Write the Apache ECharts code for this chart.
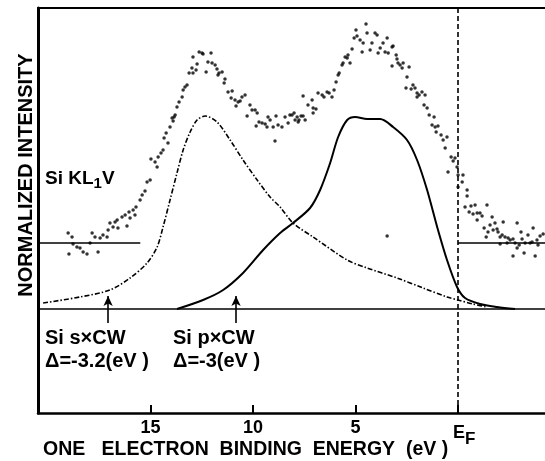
<!DOCTYPE html>
<html>
<head>
<meta charset="utf-8">
<script src="https://cdn.jsdelivr.net/npm/echarts@6.0.0/dist/echarts.min.js"></script>
<style>
  html, body { margin: 0; padding: 0; background: #fff; }
  #main { width: 545px; height: 461px; }
</style>
</head>
<body>
<div id="main"></div>
<script>
// binding energy (eV) on x, normalized intensity (arb.) on y
var xMin = -4.24, xMax = 20.49;
var yMin = -1.04, yMax = 3.01;
var tickValues = [15, 10, 5, 0];

// Si s x CW (dash-dot)
var sxcwCurve = [
  [20.24, 0.06], [18.44, 0.12], [16.98, 0.19], [16.0, 0.31], [15.17, 0.46],
  [14.68, 0.62], [14.39, 0.82], [14.05, 1.09], [13.71, 1.36], [13.41, 1.59],
  [13.07, 1.77], [12.73, 1.89], [12.34, 1.93], [11.76, 1.87], [11.12, 1.69],
  [10.49, 1.49], [9.80, 1.29], [9.17, 1.12], [8.68, 1.02], [8.05, 0.86],
  [7.07, 0.72], [5.41, 0.49], [4.44, 0.41], [2.98, 0.31], [1.71, 0.21],
  [0.54, 0.12], [0, 0.09], [-0.73, 0.05], [-1.41, 0.02]
];

// Si p x CW (solid)
var pxcwCurve = [
  [13.71, 0], [12.44, 0.09], [11.46, 0.19], [10.49, 0.36], [9.51, 0.59],
  [8.68, 0.76], [8.05, 0.86], [7.22, 1.01], [6.73, 1.19], [6.24, 1.46],
  [5.85, 1.72], [5.41, 1.89], [5.02, 1.92], [4.44, 1.90], [3.80, 1.90],
  [3.17, 1.82], [2.49, 1.69], [2.0, 1.49], [1.51, 1.19], [1.02, 0.82],
  [0.54, 0.49], [0.05, 0.22], [-0.34, 0.11], [-1.07, 0.05], [-1.90, 0.02],
  [-2.78, 0]
];

// measured Si KL1V points
var measured = [
  [19.02, 0.76], [18.83, 0.72], [18.98, 0.55], [18.78, 0.65], [18.59, 0.62],
  [18.44, 0.61], [18.29, 0.57], [18.10, 0.55], [17.95, 0.66], [17.85, 0.76],
  [17.71, 0.72], [17.56, 0.57], [17.46, 0.71], [17.32, 0.74], [17.12, 0.72],
  [17.07, 0.79], [16.98, 0.86], [16.83, 0.82], [16.73, 0.87], [16.59, 0.81],
  [16.63, 0.89], [16.39, 0.92], [16.24, 0.94], [16.15, 0.83], [16.05, 0.97],
  [16.00, 0.91], [15.85, 0.99], [15.71, 1.02], [15.76, 0.94], [15.51, 1.09],
  [15.41, 1.14], [15.27, 1.18], [15.17, 1.27], [15.02, 1.29], [14.98, 1.50],
  [14.78, 1.47], [14.68, 1.42], [14.63, 1.52], [14.49, 1.56], [14.39, 1.59],
  [14.34, 1.71], [14.24, 1.76], [14.15, 1.66], [14.05, 1.82], [13.90, 1.88],
  [13.85, 1.92], [13.71, 2.02], [13.61, 2.07], [13.95, 1.91], [13.80, 1.94],
  [13.46, 2.12], [13.41, 2.19], [13.32, 2.22], [13.22, 2.24], [13.12, 2.36],
  [12.98, 2.41], [12.93, 2.36], [12.78, 2.39], [12.73, 2.45], [12.93, 2.52],
  [12.63, 2.57], [12.49, 2.56], [12.44, 2.55], [12.05, 2.56], [12.29, 2.37],
  [12.20, 2.47], [12.00, 2.46], [11.85, 2.44], [11.76, 2.40], [11.66, 2.36],
  [11.51, 2.37], [11.71, 2.34], [11.37, 2.30], [11.41, 2.26], [11.22, 2.17],
  [11.02, 2.18], [11.07, 2.11], [10.88, 2.09], [10.73, 2.07], [10.83, 2.03],
  [10.54, 2.12], [10.39, 2.14], [10.63, 2.08], [10.15, 2.04], [10.05, 1.99],
  [9.90, 1.99], [9.80, 1.96], [10.29, 1.93], [9.71, 1.87], [9.56, 1.86],
  [9.41, 1.85], [9.85, 1.83], [9.32, 1.82], [9.27, 1.92], [9.17, 1.89],
  [9.02, 1.82], [8.88, 1.93], [8.78, 1.84], [8.59, 1.82], [8.44, 1.92],
  [8.29, 1.86], [8.10, 1.94], [8.00, 1.96], [7.85, 1.92], [7.76, 1.89],
  [8.93, 1.68], [8.20, 1.94], [7.95, 1.89], [7.80, 1.87], [7.66, 1.93],
  [7.56, 1.93], [7.46, 1.89], [7.56, 2.13], [7.32, 2.04], [7.12, 2.09],
  [7.07, 2.01], [6.93, 2.00], [7.07, 1.96], [6.83, 2.16], [6.63, 2.14],
  [6.54, 2.12], [6.39, 2.17], [6.29, 2.16], [6.15, 2.12], [6.05, 2.19],
  [5.95, 2.27], [5.85, 2.34], [5.80, 2.36], [5.66, 2.44], [5.61, 2.46],
  [5.51, 2.52], [5.37, 2.54], [5.41, 2.51], [5.27, 2.46], [5.17, 2.60],
  [5.07, 2.71], [4.98, 2.79], [4.93, 2.73], [4.78, 2.69], [4.63, 2.66],
  [4.68, 2.57], [4.49, 2.85], [4.44, 2.76], [4.29, 2.59], [4.20, 2.66],
  [4.05, 2.76], [3.95, 2.74], [3.90, 2.56], [3.80, 2.61], [3.66, 2.66],
  [3.56, 2.57], [3.46, 2.71], [3.41, 2.56], [3.22, 2.62], [3.17, 2.63],
  [3.02, 2.54], [2.98, 2.50], [2.93, 2.46], [3.22, 2.43], [2.83, 2.44],
  [2.68, 2.46], [2.73, 2.41], [2.39, 2.42], [2.49, 2.32], [2.20, 2.24],
  [2.54, 2.21], [2.29, 2.20], [2.10, 2.21], [2.00, 2.16], [1.90, 2.14],
  [2.00, 2.12], [1.76, 2.17], [1.61, 2.14], [1.66, 2.04], [1.51, 2.01],
  [1.41, 1.94], [1.17, 1.92], [1.27, 1.84], [1.12, 1.82], [0.98, 1.83],
  [1.07, 1.77], [0.83, 1.74], [0.73, 1.69], [0.54, 1.72], [0.63, 1.61],
  [0.34, 1.52], [0.24, 1.48], [0.15, 1.51], [0.05, 1.42], [0.49, 1.37],
  [0.00, 1.34], [-0.24, 1.34], [-0.20, 1.27], [0.00, 1.22], [-0.44, 1.19],
  [-0.44, 1.13], [-0.34, 1.02], [-0.63, 1.03], [-0.83, 1.04], [-0.73, 0.95],
  [-0.93, 0.96], [-0.93, 0.89], [-0.54, 0.97], [-1.07, 0.96], [-1.17, 0.93],
  [-1.41, 1.04], [-1.66, 0.92], [-1.27, 0.81], [-1.46, 0.77], [-1.37, 0.72],
  [-1.56, 0.84], [-1.80, 0.86], [-1.71, 0.79], [-1.90, 0.80], [-1.95, 0.77],
  [-2.05, 0.72], [-2.20, 0.87], [-2.15, 0.74], [-2.29, 0.72], [-2.44, 0.71],
  [-2.54, 0.69], [-2.05, 0.65], [-2.39, 0.66], [-2.68, 0.70], [-2.78, 0.66],
  [-2.88, 0.86], [-2.98, 0.64], [-3.07, 0.77], [-3.12, 0.70], [-3.27, 0.66],
  [-2.68, 0.53], [-2.88, 0.61], [-3.22, 0.56], [-3.41, 0.74], [-3.51, 0.66],
  [-3.61, 0.67], [-3.66, 0.81], [-3.76, 0.53], [-3.85, 0.69], [-4.00, 0.73],
  [-4.15, 0.75], [-3.90, 0.64], [3.46, 0.73]
];

// background level and marker arrows
var bgLevel = 0.66;
var bgLeftEnd = 15.5;
var arrowX = [17.07, 10.83];
var arrowFrom = -0.14, arrowTo = 0.13;

var font = 'Liberation Sans';
var chart = echarts.init(document.getElementById('main'));

var markData = [
  [{ coord: [xMax, bgLevel] }, { coord: [bgLeftEnd, bgLevel] }],
  [{ coord: [0, bgLevel] }, { coord: [xMin, bgLevel] }],
  [{ coord: [xMax, 0] }, { coord: [xMin, 0] }]
];
arrowX.forEach(function (x) {
  markData.push([
    { coord: [x, arrowFrom], symbol: 'none' },
    { coord: [x, arrowTo], symbol: 'arrow', symbolSize: [7, 10] }
  ]);
});

var option = {
  animation: false,
  backgroundColor: '#fff',
  grid: { left: 38, right: 0, top: 8, bottom: 48, containLabel: false, outerBoundsMode: 'none' },
  xAxis: [
    {
      type: 'value', min: xMin, max: xMax, inverse: true,
      axisLine: { show: true, onZero: false, lineStyle: { color: '#000', width: 2.5 } },
      axisTick: { show: true, inside: true, length: 8, customValues: tickValues, lineStyle: { color: '#000', width: 2 } },
      axisLabel: {
        customValues: tickValues, margin: 6, color: '#000',
        fontFamily: font, fontSize: 18, fontWeight: 'bold',
        formatter: function (v) { return v === 0 ? '{e|E}{f|F}' : String(v); },
        rich: {
          e: { fontFamily: font, fontSize: 18, fontWeight: 'bold', color: '#000', padding: [0, 0, 0, 12] },
          f: { fontFamily: font, fontSize: 17, fontWeight: 'bold', color: '#000', padding: [12, 0, 0, 0] }
        }
      },
      splitLine: { show: false }
    },
    {
      type: 'value', position: 'top', min: xMin, max: xMax, inverse: true,
      axisLine: { show: true, onZero: false, lineStyle: { color: '#000', width: 2 } },
      axisTick: { show: false }, axisLabel: { show: false }, splitLine: { show: false }
    }
  ],
  yAxis: {
    type: 'value', min: yMin, max: yMax,
    axisLine: { show: true, onZero: false, lineStyle: { color: '#000', width: 3 } },
    axisTick: { show: false }, axisLabel: { show: false }, splitLine: { show: false }
  },
  series: [
    {
      type: 'scatter', data: measured, symbol: 'circle', symbolSize: 3.5,
      itemStyle: { color: '#000' }, silent: true
    },
    {
      type: 'line', data: sxcwCurve, showSymbol: false, smooth: 0.3, silent: true,
      lineStyle: { color: '#000', width: 1.6, type: [5, 2, 1.5, 2] }
    },
    {
      type: 'line', data: pxcwCurve, showSymbol: false, smooth: 0.3, silent: true,
      lineStyle: { color: '#000', width: 2 },
      markLine: {
        silent: true, symbol: 'none', animation: false,
        label: { show: false },
        lineStyle: { color: '#000', width: 1.6, type: 'solid' },
        data: markData.concat([
          [{ coord: [0, yMin], lineStyle: { type: [5, 3], width: 1.6 } }, { coord: [0, yMax] }]
        ])
      }
    }
  ],
  graphic: [
    {
      type: 'text', x: 26, y: 175, rotation: Math.PI / 2,
      style: { text: 'NORMALIZED INTENSITY', fill: '#000', font: 'bold 20px "Liberation Sans"', align: 'center', verticalAlign: 'middle' }
    },
    {
      type: 'text', x: 45, y: 179,
      style: {
        text: '{a|Si KL}{s|1}{a|V}', verticalAlign: 'middle',
        rich: {
          a: { fontFamily: font, fontSize: 19, fontWeight: 'bold', fill: '#000' },
          s: { fontFamily: font, fontSize: 15, fontWeight: 'bold', fill: '#000', padding: [10, 0, 0, 0] }
        }
      }
    },
    { type: 'text', x: 45, y: 338, style: { text: 'Si s\u00d7CW', fill: '#000', font: 'bold 20px "Liberation Sans"', verticalAlign: 'middle' } },
    { type: 'text', x: 45, y: 361, style: { text: '\u0394=-3.2(eV )', fill: '#000', font: 'bold 20px "Liberation Sans"', verticalAlign: 'middle' } },
    { type: 'text', x: 173, y: 338, style: { text: 'Si p\u00d7CW', fill: '#000', font: 'bold 20px "Liberation Sans"', verticalAlign: 'middle' } },
    { type: 'text', x: 173, y: 361, style: { text: '\u0394=-3(eV )', fill: '#000', font: 'bold 20px "Liberation Sans"', verticalAlign: 'middle' } },
    { type: 'text', x: 43, y: 450, style: { text: 'ONE   ELECTRON  BINDING  ENERGY  (eV )', fill: '#000', font: 'bold 19.5px "Liberation Sans"', verticalAlign: 'middle' } }
  ]
};

chart.setOption(option);
</script>
</body>
</html>
